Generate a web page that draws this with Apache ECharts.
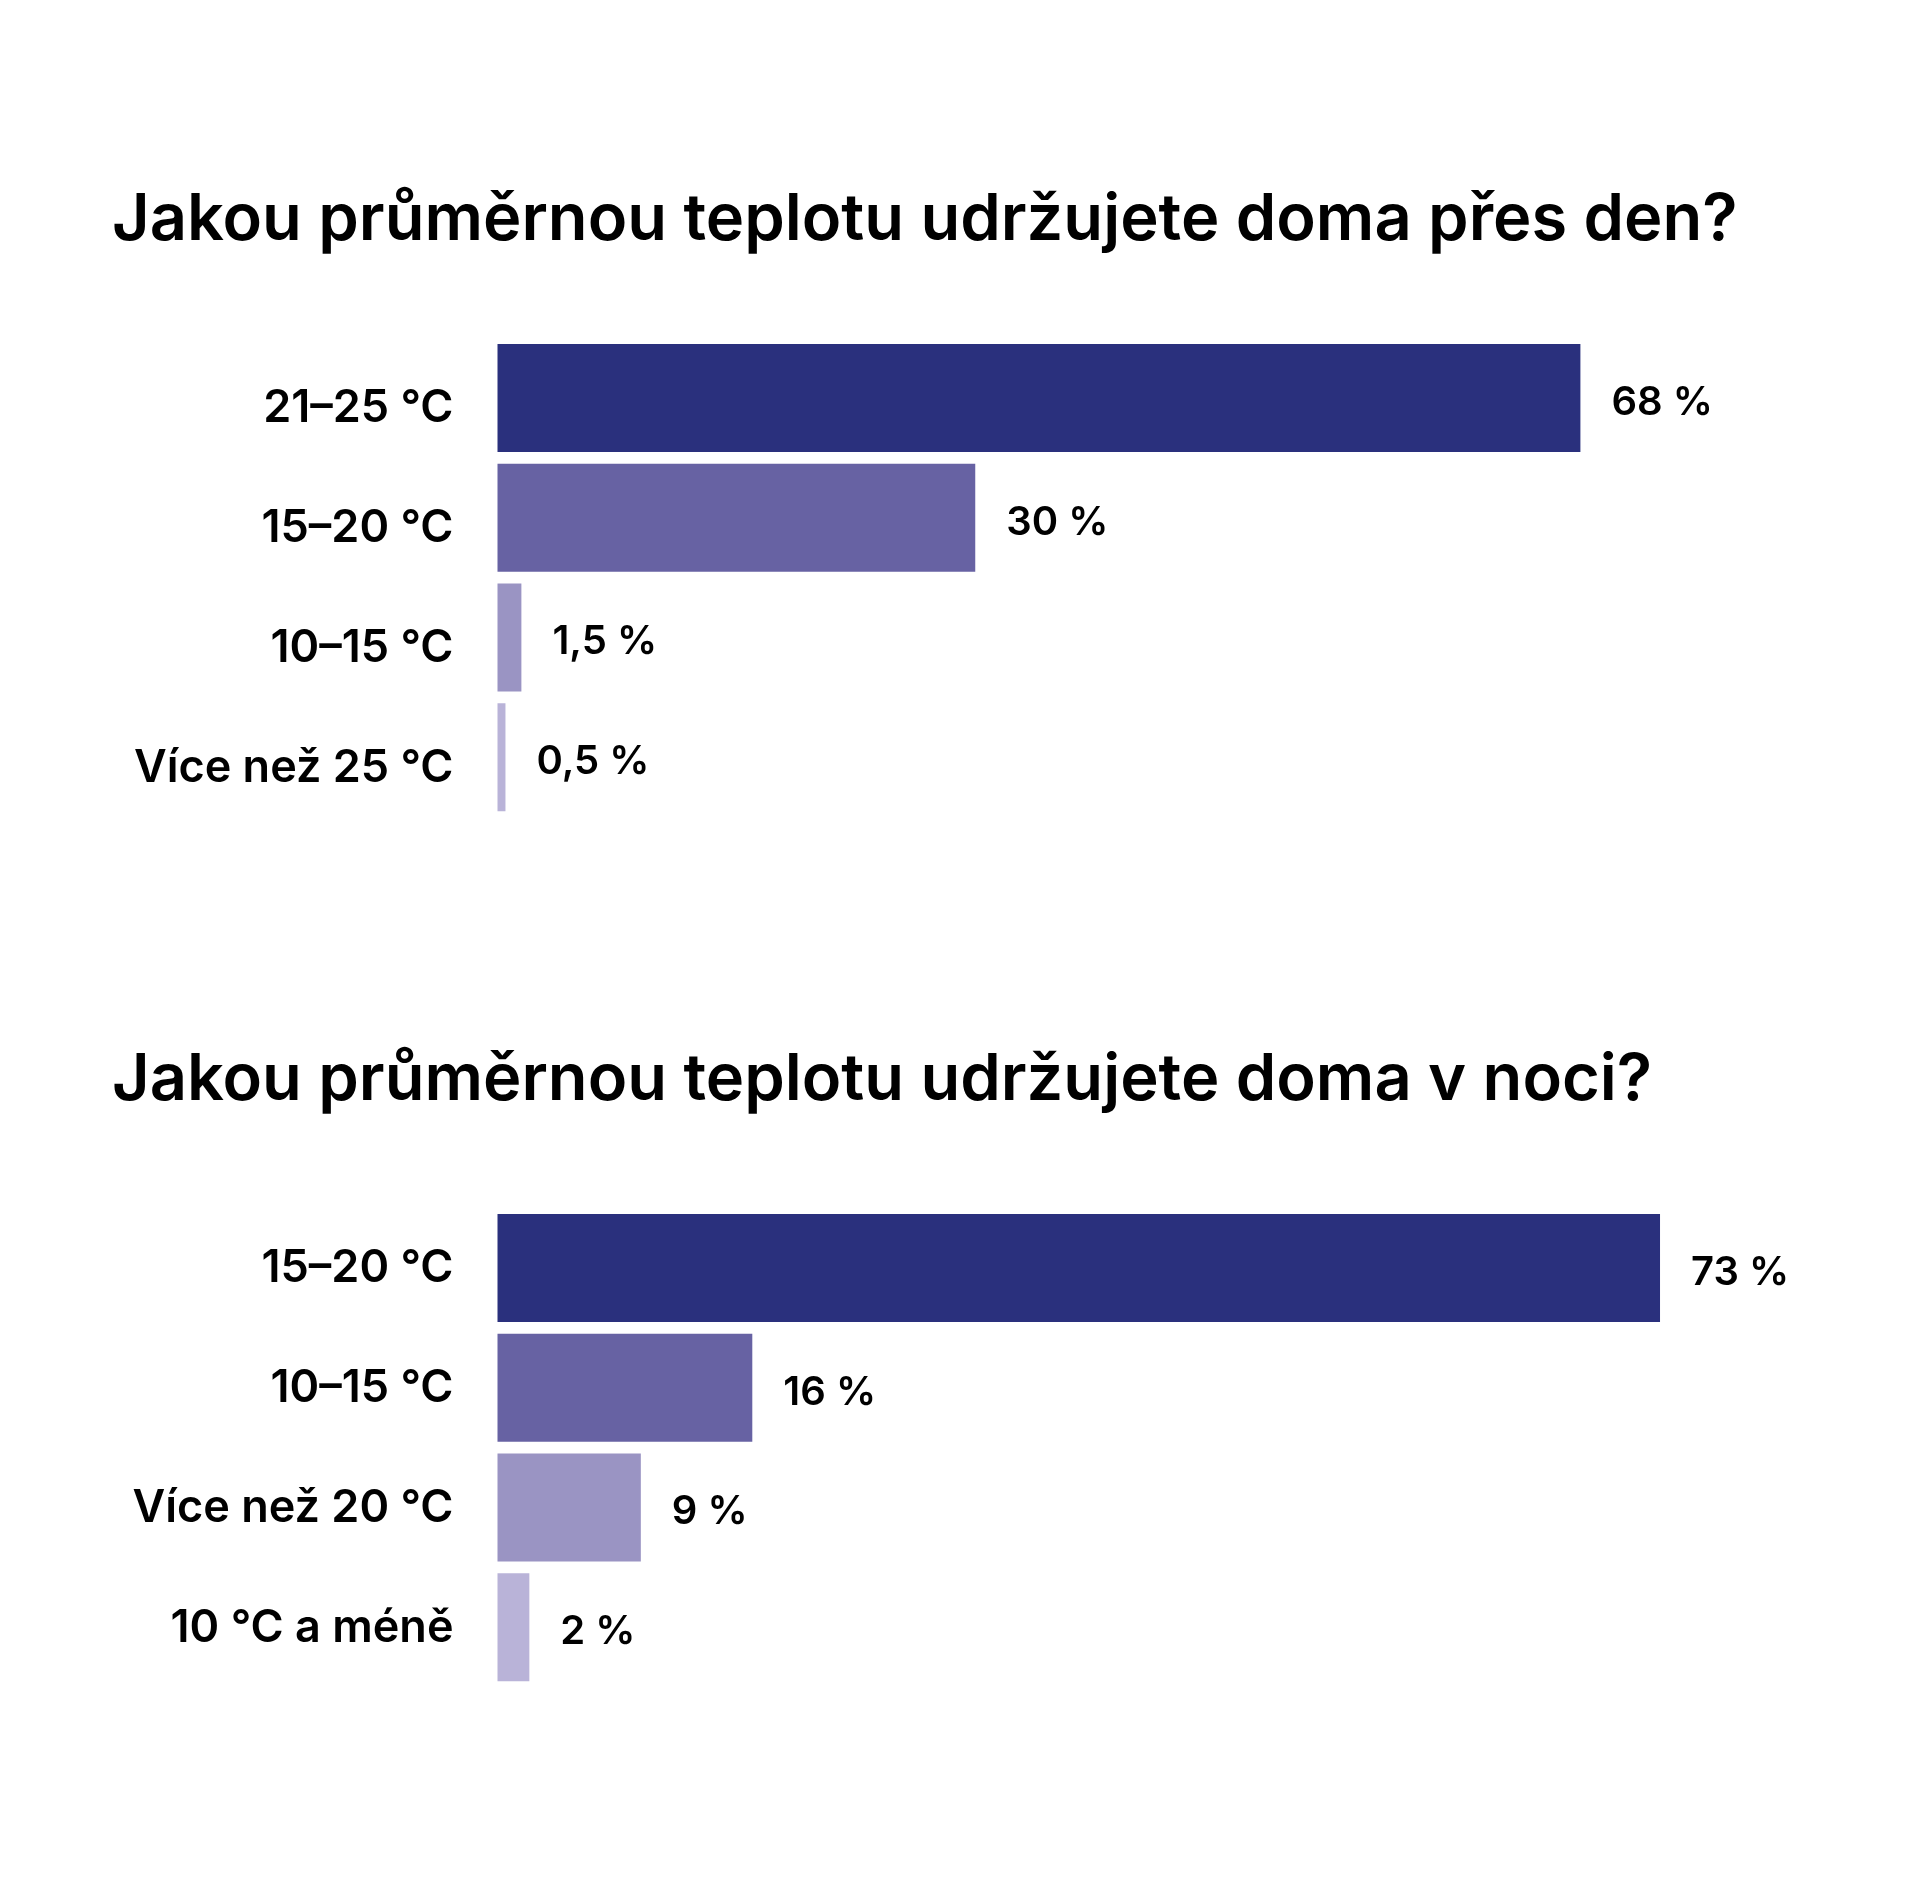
<!DOCTYPE html>
<html>
<head>
<meta charset="utf-8">
<script src="https://cdn.jsdelivr.net/npm/echarts@6/dist/echarts.min.js"></script>
<style>
  html, body { margin: 0; padding: 0; background: #fff; }
  #main { width: 1920px; height: 1897px; }
</style>
</head>
<body>
<div id="main"></div>
<script>
// day temperatures
var dayTitle = 'Jakou průměrnou teplotu udržujete doma přes den?';
var dayCategories = ['21–25 °C', '15–20 °C', '10–15 °C', 'Více než 25 °C'];
var dayValues = [68, 30, 1.5, 0.5];

// night temperatures
var nightTitle = 'Jakou průměrnou teplotu udržujete doma v noci?';
var nightCategories = ['15–20 °C', '10–15 °C', 'Více než 20 °C', '10 °C a méně'];
var nightValues = [73, 16, 9, 2];

var barColors = ['#2a307d', '#6762a3', '#9a94c3', '#b9b3d8'];
var FONT = 'Inter';

function fmt(v) {
	return String(v).replace('.', ',') + ' %';
}

function makeSeries(idx, values) {
	return {
		type : 'bar',
		xAxisIndex : idx,
		yAxisIndex : idx,
		barWidth : 108,
		data : values.map(function(v, i) {
			return { value : v, itemStyle : { color : barColors[i] } };
		}),
		label : {
			show : true,
			position : 'right',
			distance : 31,
			offset : [0, 5],
			formatter : function(p) { return fmt(p.value); },
			color : '#000',
			fontFamily : FONT,
			fontWeight : 600,
			fontSize : 40
		},
		silent : true
	};
}

// shift = how far the label sits below the bar middle
function makeYAxis(idx, cats, shift) {
	return {
		type : 'category',
		gridIndex : idx,
		inverse : true,
		data : cats,
		axisLine : { show : false },
		axisTick : { show : false },
		axisLabel : {
			margin : 44,
			formatter : function(v) { return '{a|' + v + '}'; },
			rich : {
				a : {
					color : '#000',
					fontFamily : FONT,
					fontWeight : 600,
					fontSize : 45,
					padding : [shift * 2, 0, 0, 0]
				}
			}
		}
	};
}

function makeXAxis(idx) {
	return {
		type : 'value',
		gridIndex : idx,
		min : 0,
		max : 80,
		show : false,
		splitLine : { show : false }
	};
}

var titleStyle = { fontFamily : FONT, fontWeight : 600, fontSize : 65, color : '#000' };

var myChart = echarts.init(document.getElementById('main'));
var option = {
	backgroundColor : '#ffffff',
	animation : false,
	title : [ {
		text : dayTitle,
		left : 107,
		top : 183,
		textStyle : titleStyle
	}, {
		text : nightTitle,
		left : 107,
		top : 1043,
		textStyle : titleStyle
	} ],
	grid : [ {
		left : 497.5,
		top : 338,
		width : 1274,
		height : 479
	}, {
		left : 497.5,
		top : 1208,
		width : 1274,
		height : 479
	} ],
	xAxis : [ makeXAxis(0), makeXAxis(1) ],
	yAxis : [ makeYAxis(0, dayCategories, 11), makeYAxis(1, nightCategories, 1) ],
	series : [ makeSeries(0, dayValues), makeSeries(1, nightValues) ]
};
myChart.setOption(option);
</script>
</body>
</html>
